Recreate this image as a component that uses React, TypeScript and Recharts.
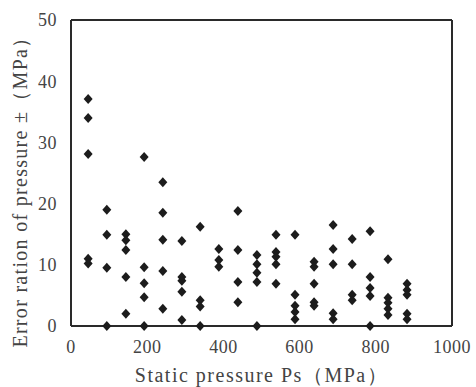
import React from 'react';
import { ScatterChart, Scatter, XAxis, YAxis, ReferenceLine } from 'recharts';

// static pressure columns (MPa) and the error values read at each column
const pressures = [45, 94, 144, 192, 241, 291, 339, 388, 438, 488, 538, 588, 638, 688, 738, 785, 832, 882];
const errors = [
  [37.1, 34.0, 28.1, 11.0, 10.2],
  [19.0, 14.9, 9.5, 0],
  [15.0, 14.0, 12.4, 8.0, 2.0],
  [27.6, 9.6, 7.0, 4.7, 0],
  [23.5, 18.5, 14.1, 9.0, 2.8],
  [13.9, 8.0, 7.4, 5.6, 1.0],
  [16.2, 4.2, 3.2, 0],
  [12.6, 10.8, 9.7],
  [18.8, 12.4, 7.2, 3.9],
  [11.6, 10.1, 8.7, 7.2, 0],
  [14.9, 12.1, 11.3, 10.1, 6.9],
  [14.9, 5.1, 3.3, 2.3, 1.1],
  [10.5, 9.7, 6.9, 3.9, 3.3],
  [16.5, 12.6, 10.1, 2.1, 1.1],
  [14.2, 10.1, 5.1, 4.2],
  [15.5, 8.0, 6.2, 4.9, 0],
  [10.9, 4.6, 3.8, 2.8, 1.8],
  [6.9, 5.9, 5.1, 2.0, 1.1],
];
const xTicks = [0, 200, 400, 600, 800, 1000];
const yTicks = [0, 10, 20, 30, 40, 50];

const points = pressures.flatMap((p, i) => errors[i].map((e) => ({ ps: p, err: e })));

const FONT = 'Liberation Serif, DejaVu Serif, serif';
const INK = '#2a2a2a';
const TEXT = '#444';

const Diamond = (props: any) => {
  const { cx, cy } = props;
  if (cx == null || cy == null) return null;
  return <polygon points={`${cx},${cy - 5} ${cx + 4.5},${cy} ${cx},${cy + 5} ${cx - 4.5},${cy}`} fill="#1c1c1c" />;
};

const YTitle = () => (
  <text
    x={20}
    y={187}
    transform="rotate(-90, 20, 187)"
    textAnchor="middle"
    dominantBaseline="central"
    fontSize={20}
    fill={TEXT}
    style={{ fontFamily: FONT, letterSpacing: 1.3 }}
  >
    Error ration of pressure ±（MPa）
  </text>
);

export default function App() {
  return (
    <div style={{ position: 'absolute', left: 0, top: 0, background: '#fff', fontFamily: FONT }}>
      <ScatterChart width={476} height={387} margin={{ top: 20, right: 24, left: 0, bottom: 0 }} style={{ fontFamily: FONT }}>
        <XAxis
          type="number"
          dataKey="ps"
          domain={[0, 1000]}
          ticks={xTicks}
          height={61}
          axisLine={{ stroke: INK, strokeWidth: 2 }}
          tickLine={false}
          tickMargin={8}
          tick={{ fontSize: 18, fill: TEXT, style: { fontFamily: FONT, letterSpacing: 0.5 } }}
          label={{ value: 'Static pressure Ps（MPa）', position: 'insideBottom', offset: 5, fontSize: 20, fill: TEXT, style: { fontFamily: FONT, letterSpacing: 1.5 } }}
        />
        <YAxis
          type="number"
          dataKey="err"
          domain={[0, 50]}
          ticks={yTicks}
          width={71}
          axisLine={{ stroke: INK, strokeWidth: 2 }}
          tickLine={false}
          tickMargin={8}
          tick={{ fontSize: 18, fill: TEXT, style: { fontFamily: FONT, letterSpacing: 0.5 } }}
          label={<YTitle />}
        />
        <ReferenceLine y={50} stroke={INK} strokeWidth={2} />
        <ReferenceLine x={1000} stroke={INK} strokeWidth={2} />
        <Scatter data={points} shape={<Diamond />} isAnimationActive={false} />
      </ScatterChart>
    </div>
  );
}
